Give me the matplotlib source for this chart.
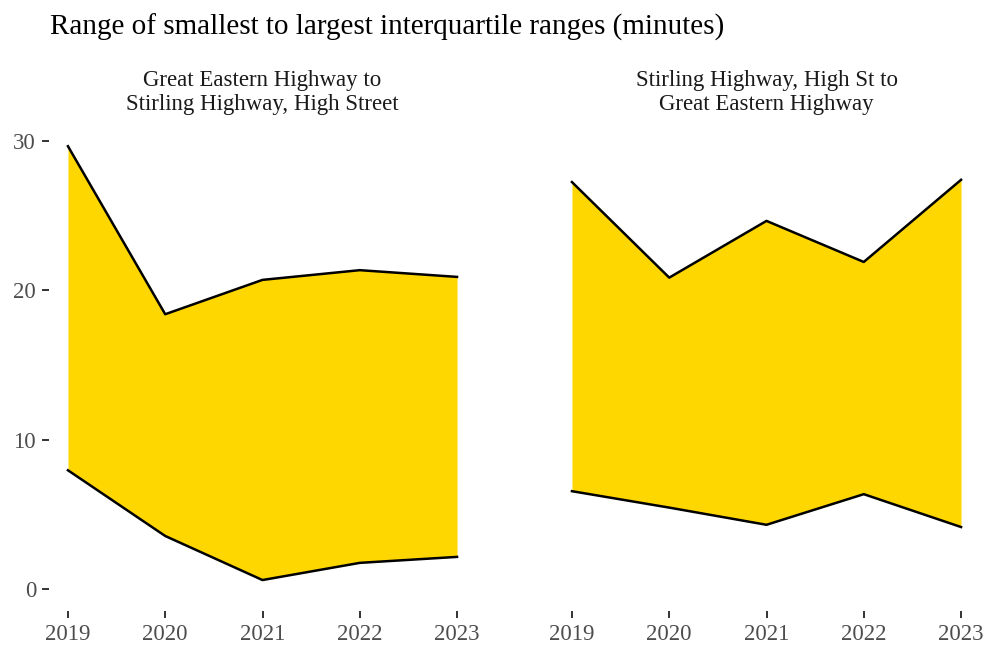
import numpy as np
import matplotlib
matplotlib.use("Agg")
import matplotlib.pyplot as plt

plt.rcParams["font.family"] = ["Liberation Serif", "DejaVu Serif"]

years = [2019, 2020, 2021, 2022, 2023]
panel_titles = [
    "Great Eastern Highway to\nStirling Highway, High Street",
    "Stirling Highway, High St to\nGreat Eastern Highway",
]
# smallest and largest interquartile range per year
ge_to_sh_low = [7.95, 3.55, 0.6, 1.75, 2.15]
ge_to_sh_high = [29.65, 18.4, 20.7, 21.35, 20.9]
sh_to_ge_low = [6.55, 5.45, 4.3, 6.35, 4.15]
sh_to_ge_high = [27.25, 20.85, 24.65, 21.9, 27.4]

lows = [ge_to_sh_low, sh_to_ge_low]
highs = [ge_to_sh_high, sh_to_ge_high]

W, H = 991, 653
fig = plt.figure(figsize=(W / 100, H / 100), dpi=100)

tick_col = "#4D4D4D"
panel_x = [48.5, 552.5]
panel_w = 428
top_px, bot_px = 118.6, 611.4

for i in range(2):
    ax = fig.add_axes([panel_x[i] / W, 1 - bot_px / H, panel_w / W, (bot_px - top_px) / H])
    ax.fill_between(years, lows[i], highs[i], color="#FFD700", linewidth=0)
    ax.plot(years, lows[i], color="black", lw=1.8)
    ax.plot(years, highs[i], color="black", lw=1.8)
    ax.set_xlim(2018.8, 2023.2)
    ax.set_ylim(-1.5, 31.5)
    ax.set_xticks(years)
    ax.set_xticklabels([str(y) for y in years])
    for s in ax.spines.values():
        s.set_visible(False)
    ax.tick_params(axis="both", colors="#333333", labelcolor=tick_col, labelsize=16.5,
                   length=5, width=1.4, pad=4)
    if i == 0:
        ax.set_yticks([0, 10, 20, 30])
    else:
        ax.set_yticks([])
    ax.set_title(panel_titles[i], fontsize=16.5, color="#1A1A1A", pad=6, linespacing=1.2)

fig.text(50 / W, 1 - 27 / H, "Range of smallest to largest interquartile ranges (minutes)",
         fontsize=21, color="black", va="center", ha="left")

fig.savefig("out.png", dpi=100)
